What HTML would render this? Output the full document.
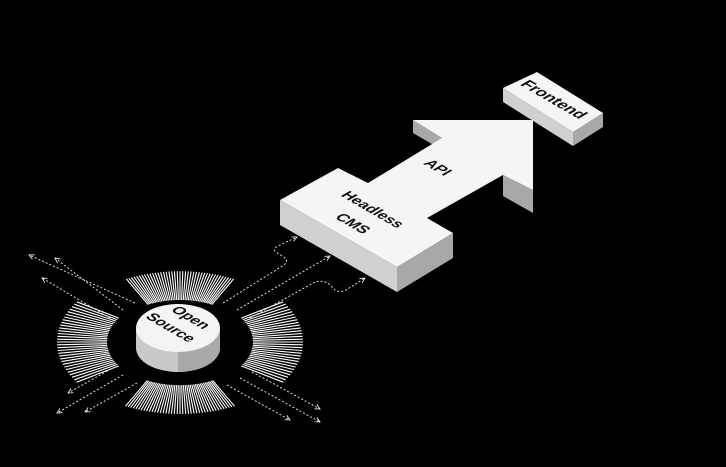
<!DOCTYPE html>
<html><head><style>html,body{margin:0;background:#000;width:726px;height:467px;overflow:hidden}</style></head>
<body>
<svg width="726" height="467" viewBox="0 0 726 467" xmlns="http://www.w3.org/2000/svg" font-family="Liberation Sans, sans-serif">
<defs>
<marker id="ah" markerWidth="6" markerHeight="6" refX="5" refY="3" orient="auto"><path d="M0,0.5 L5,3 L0,5.5" fill="none" stroke="#fff" stroke-width="0.8"/></marker>
</defs>
<rect width="726" height="467" fill="#000"/>
<!-- fans -->
<g id="fans" stroke="#fff" stroke-width="1.1"></g>
<!-- dotted arrows -->
<g fill="none" stroke="#ddd" stroke-width="1" stroke-dasharray="2 2" marker-end="url(#ah)">
<path d="M135,303 L29,255"/>
<path d="M123,310 L55,258"/>
<path d="M110,318 L42,278"/>
<path d="M111,369 L68,393"/>
<path d="M123,375 L57,413"/>
<path d="M137,383 L85,412"/>
<path d="M252,372 L320,409"/>
<path d="M240,378 L320,422"/>
<path d="M227,385 L290,420"/>
<path d="M223,303 L284,265 Q290,260 282,256 L276,252 Q272,249 278,246 L297,237"/>
<path d="M237,310 L330,256"/>
<path d="M250,318 L315,282 Q320,280 328,283 L335,290 Q340,293 346,290 L365,278"/>
</g>
<!-- disc -->
<path d="M136,328 L136,348 A42,24 0 0 0 220,348 L220,328 Z" fill="#c9c9c9"/>
<path d="M178,350 L178,372 A42,24 0 0 0 220,348 L220,328 Z" fill="#a9a9a9"/>
<ellipse cx="178" cy="328" rx="42" ry="24" fill="#f4f4f4"/>
<!-- CMS + arrow -->
<polygon points="280,200 280,225 397,292 397,267" fill="#d0d0d0"/>
<polygon points="397,267 453,233 453,258 397,292" fill="#a8a8a8"/>
<polygon points="503,175 533,190 533,213 503,196" fill="#a8a8a8"/>
<polygon points="413,120 442,138 442,150 413,133" fill="#a8a8a8"/>
<polygon points="280,200 338,168 368,183 442,138 413,120 533,120 533,190 503,175 427,218 453,233 397,267" fill="#f5f5f5"/>
<polygon points="533,120 533,213 533,213" fill="#ccc"/>
<!-- Frontend -->
<polygon points="503,88 573,132 573,146 503,102" fill="#d0d0d0"/>
<polygon points="573,132 603,113 603,127 573,146" fill="#a8a8a8"/>
<polygon points="503,88 537,72 603,113 573,132" fill="#f5f5f5"/>
<!-- labels -->
<g font-weight="bold" font-size="14" fill="#111">
<text transform="matrix(0.866,0.5,-0.866,0.5,553,100)" text-anchor="middle" dominant-baseline="middle" font-size="16">Frontend</text>
<text transform="matrix(0.866,0.5,-0.866,0.5,437,168)" text-anchor="middle" dominant-baseline="middle" font-size="15">API</text>
<text transform="matrix(0.866,0.5,-0.866,0.5,372,210)" text-anchor="middle" dominant-baseline="middle" font-size="15">Headless</text>
<text transform="matrix(0.866,0.5,-0.866,0.5,352,224)" text-anchor="middle" dominant-baseline="middle" font-size="15">CMS</text>
<text transform="matrix(0.866,0.5,-0.866,0.5,190,318)" text-anchor="middle" dominant-baseline="middle" font-size="15">Open</text>
<text transform="matrix(0.866,0.5,-0.866,0.5,170,328)" text-anchor="middle" dominant-baseline="middle" font-size="15">Source</text>
</g>
</svg>
<script>
(function(){
var g=document.getElementById('fans'),cx=180,cy=342,s=0.6,out='';
function fan(a0,span,r1,r2,n){for(var i=0;i<=n;i++){var a=(a0-span+2*span*i/n)*Math.PI/180;var c=Math.cos(a),d=Math.sin(a);
out+='<line x1="'+(cx+r1*c).toFixed(1)+'" y1="'+(cy+r1*d*s).toFixed(1)+'" x2="'+(cx+r2*c).toFixed(1)+'" y2="'+(cy+r2*d*s).toFixed(1)+'"/>';}}
fan(-90,27,70,118,40);fan(90,27,72,120,40);fan(180,33,73,123,30);fan(0,33,73,123,30);
g.innerHTML=out;})();
</script>
</body></html>
